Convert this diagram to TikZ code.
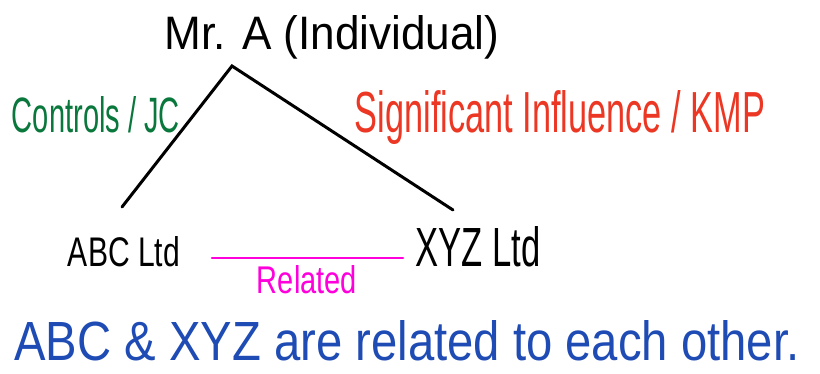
\documentclass[tikz,border=0pt]{standalone}
\usepackage{fontspec}
\setmainfont{Liberation Sans}
\definecolor{inkgreen}{RGB}{10,120,60}
\definecolor{inkred}{RGB}{235,55,35}
\definecolor{inkpink}{RGB}{255,0,220}
\definecolor{inkblue}{RGB}{30,75,180}
\newcommand{\fitwh}[3]{\resizebox{#1}{#2}{#3}}
\tikzset{
  hand/.style={inner sep=0pt, font=\fontsize{30}{32}\selectfont},
  stroke/.style={line width=3pt, line cap=round},
}
\begin{document}
\begin{tikzpicture}[x=1pt,y=-1pt]
\useasboundingbox (0,0) rectangle (820,374);
\node[hand, anchor=base] (mra) at (332,50) {\fitwh{335pt}{34pt}{Mr. A (Individual)}};
\node[hand, text=inkgreen, anchor=base] (ctl) at (96,133) {\fitwh{168pt}{36pt}{Controls / JC}};
\node[hand, text=inkred, anchor=base] (sig) at (560,133) {\fitwh{410pt}{42pt}{Significant Influence / KMP}};
\node[hand, anchor=base] (abc) at (124,266) {\fitwh{112pt}{30pt}{ABC Ltd}};
\node[hand, anchor=base] (xyz) at (478,267) {\fitwh{125pt}{40pt}{XYZ Ltd}};
\node[hand, text=inkpink, anchor=base] (rel) at (307,294) {\fitwh{100pt}{28pt}{Related}};
\node[hand, text=inkblue, anchor=base] (sent) at (407,360) {\fitwh{785pt}{40pt}{ABC \& XYZ are related to each other.}};
\coordinate (apex) at (232,66);
\coordinate (abctop) at (122,207);
\coordinate (xyztop) at (453,210);
\coordinate (rell) at (212,258);
\coordinate (relr) at (403,258);
\draw[stroke] (abctop) -- (apex) -- (xyztop);
\draw[stroke, inkpink, line width=2.6pt] (rell) -- (relr);
\end{tikzpicture}
\end{document}
